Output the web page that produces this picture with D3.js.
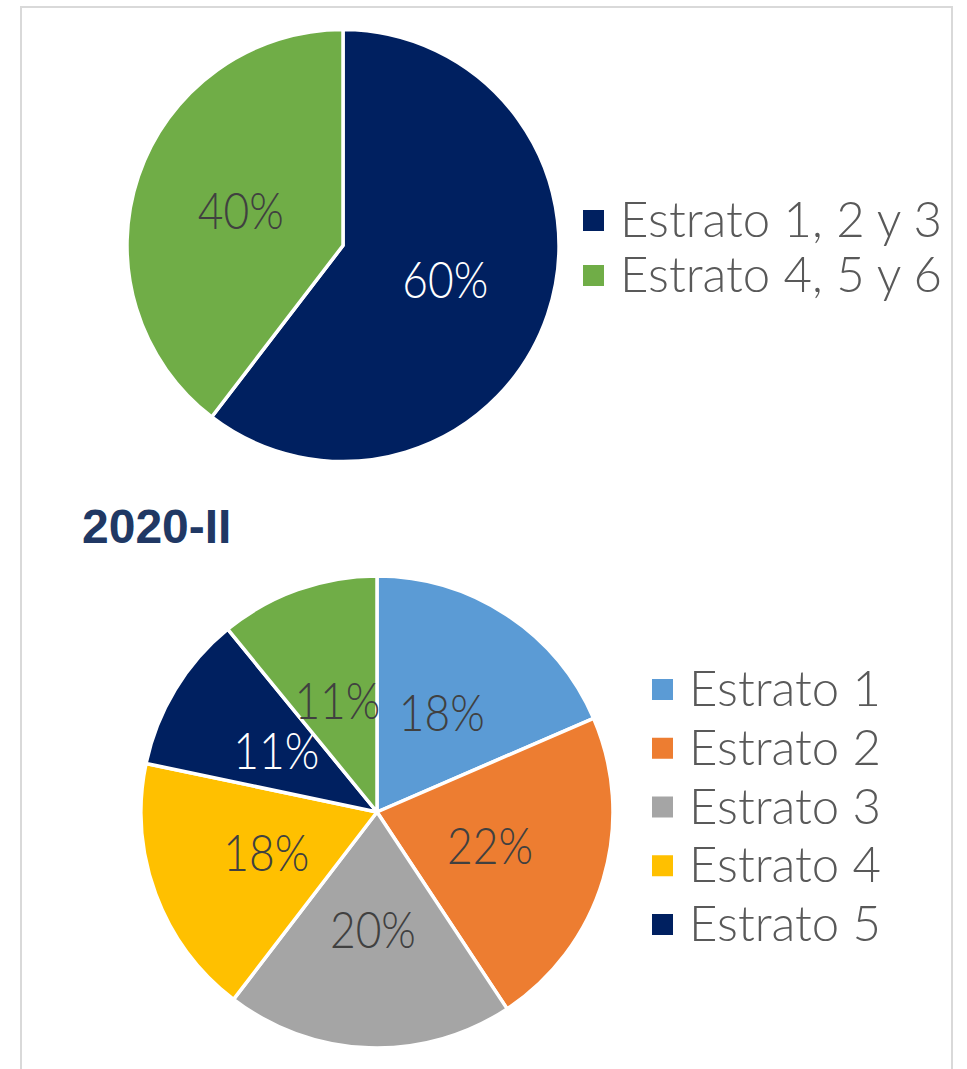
<!DOCTYPE html>
<html><head><meta charset="utf-8">
<script src="https://cdn.jsdelivr.net/npm/d3@7"></script>
<style>body{margin:0;background:#fff}svg{display:block}</style>
</head><body>
<svg id="c" width="967" height="1069"></svg>
<script>
// ---- data ----
const topCategories = ["Estrato 1, 2 y 3", "Estrato 4, 5 y 6"];
const topValues = [60.4, 39.6];
const topLabels = ["60%", "40%"];
const topColors = ["#002060", "#70AD47"];
const topLabelColors = ["#ffffff", "#404040"];

const bottomTitle = "2020-II";
const bottomCategories = ["Estrato 1", "Estrato 2", "Estrato 3", "Estrato 4", "Estrato 5", "Estrato 6"];
const bottomValues = [18.5, 22.2, 19.7, 17.9, 10.8, 10.9];
const bottomLabels = ["18%", "22%", "20%", "18%", "11%", "11%"];
const bottomColors = ["#5B9BD5", "#ED7D31", "#A5A5A5", "#FFC000", "#002060", "#70AD47"];
const bottomLabelColors = ["#404040", "#404040", "#404040", "#404040", "#ffffff", "#404040"];
const bottomLegendCount = 5;

const svg = d3.select("#c");
const FONT = "Lato, 'DejaVu Sans', sans-serif";

// frame
svg.append("path")
  .attr("d", "M21,1069 V7 H952 V1069")
  .attr("fill", "none").attr("stroke", "#d9d9d9").attr("stroke-width", 2);

function measure(str, size) {
  const p = svg.append("text").attr("font-family", FONT).attr("font-size", size).attr("font-weight", 300).text(str);
  const w = p.node().getComputedTextLength();
  p.remove();
  return w;
}
const LEG_SIZE = 50, LAB_SIZE = 51;
const legScale = 322 / measure("Estrato 1, 2 y 3", LEG_SIZE);
const labScale = 86 / measure("40%", LAB_SIZE);

function fitText(sel, k) {
  sel.each(function() {
    const w = this.getComputedTextLength();
    d3.select(this).attr("textLength", w * k).attr("lengthAdjust", "spacingAndGlyphs");
  });
}

function drawPie(cx, cy, r, cats, vals, labels, colors, labelColors) {
  const pie = d3.pie().sort(null).value(d => d.v);
  const data = pie(cats.map((c, i) => ({c, v: vals[i], l: labels[i], col: colors[i], lc: labelColors[i]})));
  const arc = d3.arc().innerRadius(0).outerRadius(r);
  const g = svg.append("g").attr("transform", `translate(${cx},${cy})`);
  g.selectAll("path").data(data).join("path")
    .attr("d", arc).attr("fill", d => d.data.col)
    .attr("stroke", "#fff").attr("stroke-width", 3.5).attr("stroke-linejoin", "round");
  const t = g.selectAll("text").data(data).join("text")
    .attr("x", d => arc.centroid(d)[0])
    .attr("y", d => arc.centroid(d)[1] + 18)
    .attr("text-anchor", "middle")
    .attr("font-family", FONT).attr("font-size", LAB_SIZE).attr("font-weight", 300)
    .attr("fill", d => d.data.lc)
    .text(d => d.data.l);
  fitText(t, labScale);
}

function drawLegend(x, y, step, cats, colors, n) {
  const g = svg.append("g");
  const items = cats.slice(0, n).map((c, i) => ({c, col: colors[i]}));
  g.selectAll("rect").data(items).join("rect")
    .attr("x", x).attr("y", (d, i) => y + i * step - 27)
    .attr("width", 21).attr("height", 21).attr("fill", d => d.col);
  const t = g.selectAll("text").data(items).join("text")
    .attr("x", x + 37).attr("y", (d, i) => y + i * step)
    .attr("font-family", FONT).attr("font-size", LEG_SIZE).attr("font-weight", 300)
    .attr("fill", "#595959").text(d => d.c);
  fitText(t, legScale);
}

drawPie(343, 245.5, 216, topCategories, topValues, topLabels, topColors, topLabelColors);
drawLegend(583, 237, 55, topCategories, topColors, topCategories.length);

svg.append("text").attr("x", 82).attr("y", 543)
  .attr("font-family", "'Liberation Sans', Arial, sans-serif").attr("font-weight", "bold")
  .attr("font-size", 48).attr("fill", "#203864").text(bottomTitle);

drawPie(377, 812, 236, bottomCategories, bottomValues, bottomLabels, bottomColors, bottomLabelColors);
drawLegend(652, 706, 58.75, bottomCategories, bottomColors, bottomLegendCount);
</script>
</body></html>
